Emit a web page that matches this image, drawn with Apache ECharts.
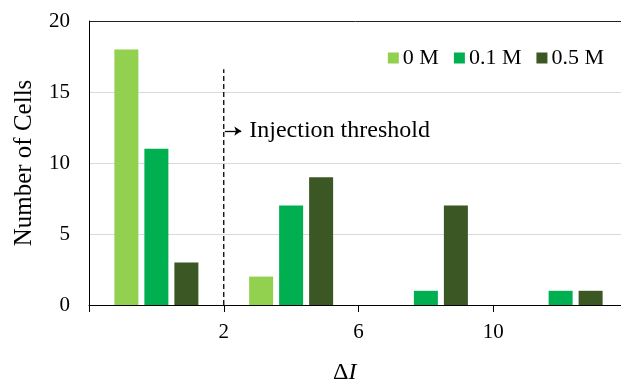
<!DOCTYPE html>
<html>
<head>
<meta charset="utf-8">
<script src="https://cdn.jsdelivr.net/npm/echarts@6/dist/echarts.min.js"></script>
<style>
  html, body { margin: 0; padding: 0; background: #fff; }
  #chart { width: 621px; height: 385px; }
</style>
</head>
<body>
<div id="chart"></div>
<script>
// bins of delta I (axis labels sit on the bin edges)
const bins = ['0-2', '2-6', '6-10', '>10']
const edgeLabels = ['', '2', '6', '10', '']
const yTicks = [0, 5, 10, 15, 20]

const cells0M = [18, 2, 0, 0]
const cells01M = [11, 7, 1, 1]
const cells05M = [3, 9, 7, 1]

// dashed threshold at the 2nd bin edge
const thresholdEdge = 1
const thresholdTop = 16.6
const arrowY = 12.25
const arrowFrom = 1.008
const arrowTo = 1.13

const serif = "'Liberation Serif', 'Times New Roman', serif"

const chart = echarts.init(document.getElementById('chart'))

const barSeries = (name, data, color) => ({
  name: name,
  type: 'bar',
  xAxisIndex: 0,
  yAxisIndex: 0,
  data: data,
  barWidth: 24,
  barGap: '25%',
  itemStyle: { color: color }
})

chart.setOption({
  animation: false,
  textStyle: { fontFamily: serif },
  grid: { left: 89, top: 21, width: 539, height: 284, outerBoundsMode: 'none', containLabel: false },
  legend: {
    data: ['0 M', '0.1 M', '0.5 M'],
    right: 12,
    top: 42,
    icon: 'rect',
    itemWidth: 11,
    itemHeight: 11,
    itemGap: 15,
    textStyle: { fontFamily: serif, fontSize: 22, color: '#000', padding: [0, 0, 0, -1] }
  },
  xAxis: [
    {
      type: 'category',
      data: bins,
      show: false
    },
    {
      type: 'value',
      min: 0,
      max: bins.length,
      interval: 1,
      position: 'bottom',
      axisLine: { lineStyle: { color: '#000', width: 1 } },
      axisTick: { show: true, length: 7, lineStyle: { color: '#000' } },
      axisLabel: {
        margin: 17,
        fontSize: 21,
        color: '#000',
        fontFamily: serif,
        formatter: (v) => edgeLabels[v] || ''
      },
      splitLine: { show: false }
    }
  ],
  yAxis: {
    type: 'value',
    min: yTicks[0],
    max: yTicks[yTicks.length - 1],
    interval: 5,
    name: 'Number of Cells',
    nameLocation: 'middle',
    nameGap: 52,
    nameTextStyle: { fontFamily: serif, fontSize: 25, color: '#000' },
    axisLine: { show: true, lineStyle: { color: '#000', width: 1 } },
    axisTick: { show: false },
    axisLabel: { margin: 19, fontSize: 21, color: '#000', fontFamily: serif },
    splitLine: {
      lineStyle: { color: ['#000', '#D9D9D9', '#D9D9D9', '#D9D9D9', '#222'], width: 1 }
    }
  },
  series: [
    barSeries('0 M', cells0M, '#92D050'),
    barSeries('0.1 M', cells01M, '#00B050'),
    barSeries('0.5 M', cells05M, '#3A5724'),
    {
      name: 'threshold',
      type: 'line',
      xAxisIndex: 1,
      yAxisIndex: 0,
      data: [[thresholdEdge, 0], [thresholdEdge, thresholdTop]],
      symbol: 'none',
      lineStyle: { color: '#000', width: 1.3, type: [5, 3] },
      markLine: {
        silent: true,
        symbol: ['none', 'arrow'],
        symbolSize: [7, 7],
        lineStyle: { color: '#000', width: 1.3, type: 'solid' },
        label: {
          show: true,
          position: 'end',
          distance: 8,
          formatter: 'Injection threshold',
          fontFamily: serif,
          fontSize: 24,
          color: '#000'
        },
        data: [[{ coord: [arrowFrom, arrowY] }, { coord: [arrowTo, arrowY] }]]
      }
    }
  ],
  graphic: [
    {
      type: 'text',
      left: 333,
      top: 361,
      style: {
        text: '{d|Δ}{i|I}',
        rich: {
          d: { fontFamily: serif, fontSize: 24, fill: '#000' },
          i: { fontFamily: serif, fontSize: 24, fontStyle: 'italic', fill: '#000' }
        }
      }
    }
  ]
})
</script>
</body>
</html>
